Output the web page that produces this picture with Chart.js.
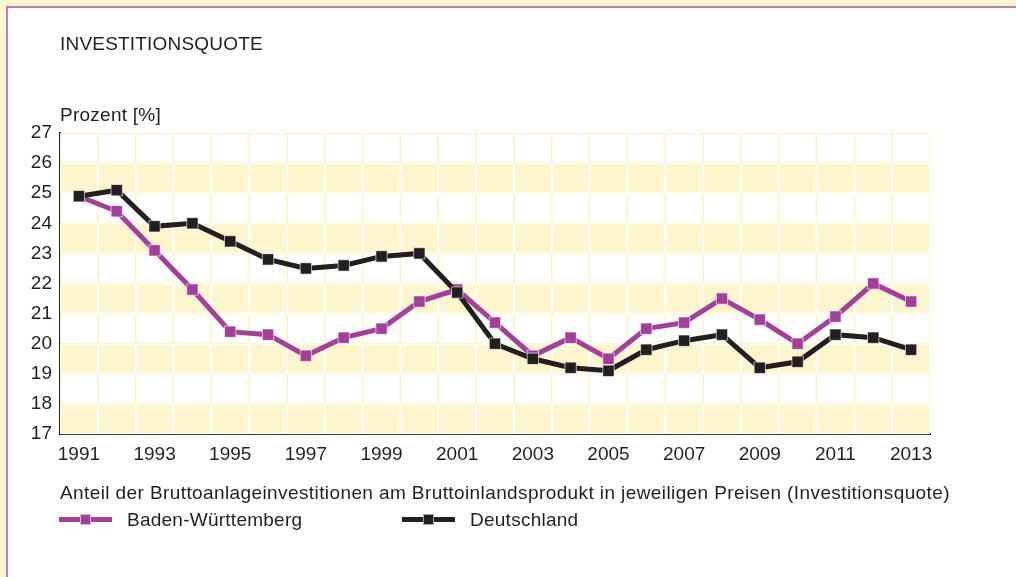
<!DOCTYPE html>
<html>
<head>
<meta charset="utf-8">
<script src="https://cdn.jsdelivr.net/npm/chart.js@4/dist/chart.umd.min.js"></script>
<style>
  html,body{margin:0;padding:0;}
  body{width:1016px;height:577px;background:#fdf6cf;position:relative;overflow:hidden;font-family:"Liberation Sans",Arial,sans-serif;color:#231f20;}
  #box{position:absolute;left:6px;top:6px;width:1030px;height:600px;background:#fff;border-left:2px solid #c27db0;border-top:2px solid #c27db0;}
  #c{position:absolute;left:0;top:0;}
  .txt{position:absolute;font-size:19px;white-space:nowrap;line-height:1;letter-spacing:0.25px;}
  .leg{position:absolute;height:5px;width:53px;}
  .leg .sq{position:absolute;left:21px;top:-3px;width:9px;height:9px;border:1px solid rgba(255,255,255,0.6);}
</style>
</head>
<body>
<div id="box"></div>
<canvas id="c" width="1016" height="577"></canvas>
<div class="txt" id="title" style="left:60px;top:34px;letter-spacing:0.2px;">INVESTITIONSQUOTE</div>
<div class="txt" id="unit" style="left:60px;top:105px;">Prozent [%]</div>
<div class="txt" id="foot" style="left:60px;top:483px;letter-spacing:0.4px;"></div>
<div class="leg" id="leg1" style="left:59px;top:517px;"><div class="sq"></div></div>
<div class="txt" id="leg1t" style="left:127px;top:510px;"></div>
<div class="leg" id="leg2" style="left:402px;top:517px;"><div class="sq"></div></div>
<div class="txt" id="leg2t" style="left:470px;top:510px;"></div>
<script>
const years = ["1991","1992","1993","1994","1995","1996","1997","1998","1999","2000","2001","2002","2003","2004","2005","2006","2007","2008","2009","2010","2011","2012","2013"];
const bwValues = [24.9,24.4,23.1,21.8,20.4,20.3,19.6,20.2,20.5,21.4,21.8,20.7,19.6,20.2,19.5,20.5,20.7,21.5,20.8,20.0,20.9,22.0,21.4];
const deValues = [24.9,25.1,23.9,24.0,23.4,22.8,22.5,22.6,22.9,23.0,21.7,20.0,19.5,19.2,19.1,19.8,20.1,20.3,19.2,19.4,20.3,20.2,19.8];
const seriesNames = ["Baden-Württemberg","Deutschland"];
const footText = "Anteil der Bruttoanlageinvestitionen am Bruttoinlandsprodukt in jeweiligen Preisen (Investitionsquote)";
const yMin = 17, yMax = 27;

const PURPLE = "#a2409a", BLACK = "#231f20", YELLOW = "#fdf5cd";

document.getElementById("foot").textContent = footText;
document.getElementById("leg1t").textContent = seriesNames[0];
document.getElementById("leg2t").textContent = seriesNames[1];
document.getElementById("leg1").style.background = PURPLE;
document.querySelector("#leg1 .sq").style.background = PURPLE;
document.getElementById("leg2").style.background = BLACK;
document.querySelector("#leg2 .sq").style.background = BLACK;

const cellsPlugin = {
  id: "cells",
  beforeDatasetsDraw(chart) {
    const ctx = chart.ctx, x = chart.scales.x, y = chart.scales.y, a = chart.chartArea;
    const n = years.length;
    const w = (a.right - a.left) / n;
    ctx.save();
    for (let v = yMin; v < yMax; v++) {
      const top = y.getPixelForValue(v + 1), bot = y.getPixelForValue(v);
      const yellowRow = (v % 2 === 1);
      ctx.fillStyle = yellowRow ? "#ffffff" : YELLOW;
      ctx.fillRect(a.left, top, a.right - a.left, bot - top);
      ctx.fillStyle = yellowRow ? YELLOW : "#ffffff";
      for (let i = 0; i < n; i++) {
        const cx = x.getPixelForValue(i);
        ctx.fillRect(cx - w / 2 + 1, top + 1, w - 2, bot - top - 2);
      }
    }
    ctx.restore();
  }
};

new Chart(document.getElementById("c"), {
  type: "line",
  data: {
    labels: years,
    datasets: [
      {label: seriesNames[1], data: deValues, borderColor: BLACK, backgroundColor: BLACK, borderWidth: 5,
       pointStyle: "rect", pointRadius: 8, pointBorderColor: "rgba(255,255,255,0.6)", pointBorderWidth: 1, pointBackgroundColor: BLACK, tension: 0},
      {label: seriesNames[0], data: bwValues, borderColor: PURPLE, backgroundColor: PURPLE, borderWidth: 5,
       pointStyle: "rect", pointRadius: 8, pointBorderColor: "rgba(255,255,255,0.6)", pointBorderWidth: 1, pointBackgroundColor: PURPLE, tension: 0}
    ]
  },
  options: {
    responsive: false,
    animation: false,
    layout: {padding: {top: 133, left: 0, right: 86, bottom: 103}},
    plugins: {legend: {display: false}, tooltip: {enabled: false}, title: {display: false}},
    scales: {
      x: {
        offset: true,
        grid: {display: false, drawTicks: false},
        border: {display: true, color: "#3a3a3a", width: 2},
        ticks: {autoSkip: false, maxRotation: 0, padding: 9, color: "#231f20",
                font: {family: "Liberation Sans", size: 19},
                callback: function(v, i) { return i % 2 === 0 ? years[i] : ""; }},
        afterFit: function(s) { s.height = 40; }
      },
      y: {
        min: yMin, max: yMax,
        grid: {display: false, drawTicks: false},
        border: {display: true, color: "#231f20", width: 2},
        ticks: {stepSize: 1, padding: 8, color: "#231f20", font: {family: "Liberation Sans", size: 19}},
        afterFit: function(s) { s.width = 60; }
      }
    }
  },
  plugins: [cellsPlugin]
});
</script>
</body>
</html>
